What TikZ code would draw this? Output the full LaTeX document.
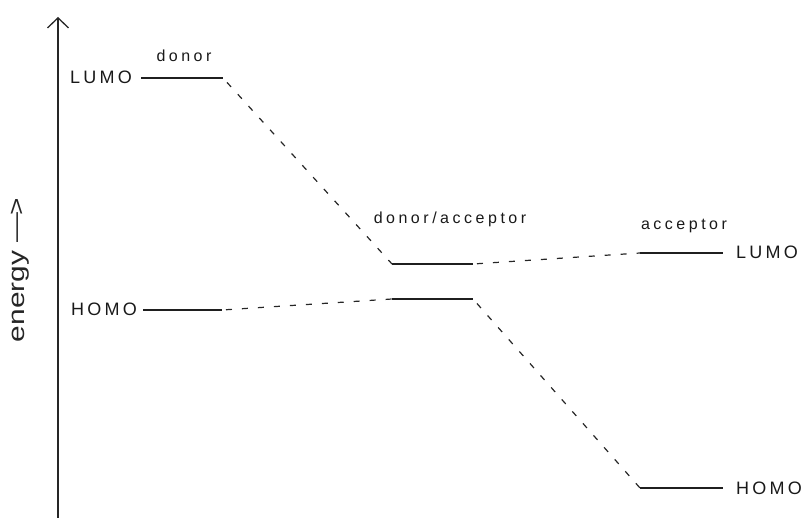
\documentclass[tikz,border=0pt]{standalone}
\usepackage{fontspec}
\setmainfont{Liberation Sans}
\newfontfamily\spacedfont[LetterSpace=22]{Liberation Sans}
\newfontfamily\capsfont[LetterSpace=18]{Liberation Sans}
\usetikzlibrary{arrows.meta}
\begin{document}
\begin{tikzpicture}[x=1pt,y=-1pt,
  level/.style={line width=1.7pt, draw=black!88},
  link/.style={line width=1.2pt, draw=black!85, dash pattern=on 6pt off 10pt},
  lbl/.style={font=\fontsize{16}{18}\spacedfont, text=black!90, inner sep=0pt, anchor=base},
  caps/.style={font=\fontsize{18}{20}\capsfont, text=black!90, inner sep=0pt, anchor=base}]
\useasboundingbox (0,0) rectangle (803,518);

% energy axis
\coordinate (axb) at (58,518);
\coordinate (axt) at (58,17);
\draw[line width=1.5pt, black!85, -{Straight Barb[length=10pt,width=21pt,line width=1.3pt]}] (axb) -- (axt);
\node[inner sep=0pt, text=black!85] (elabel) at (20,270)
  {\rotatebox{90}{\scalebox{1.3}[1]{\fontsize{23}{26}\selectfont energy \raisebox{0.5pt}{---}\kern-2pt{>}}}};

% orbital levels
\coordinate (dL1) at (141,78);  \coordinate (dL2) at (223,78);
\coordinate (dH1) at (143,310); \coordinate (dH2) at (222,310);
\coordinate (cL1) at (392,264); \coordinate (cL2) at (473,264);
\coordinate (cH1) at (392,299); \coordinate (cH2) at (473,299);
\coordinate (aL1) at (640,253); \coordinate (aL2) at (723,253);
\coordinate (aH1) at (640,488); \coordinate (aH2) at (723,488);

\draw[level] (dL1) -- (dL2);
\draw[level] (dH1) -- (dH2);
\draw[level] (cL1) -- (cL2);
\draw[level] (cH1) -- (cH2);
\draw[level] (aL1) -- (aL2);
\draw[level] (aH1) -- (aH2);

% correlation lines
\draw[link, dash phase=-6pt] (dL2) -- (cL1);
\draw[link, dash phase=-4pt] (dH2) -- (cH1);
\draw[link, dash phase=-4pt] (cL2) -- (aL1);
\draw[link, dash phase=-6pt] (cH2) -- (aH1);

% labels
\node[caps] (tdL) at (101,84) {LUMO};
\node[caps] (tdH) at (104,316) {HOMO};
\node[lbl] (tdn) at (184,62) {donor};
\node[lbl] (tda) at (450,224) {donor/acceptor};
\node[lbl] (tac) at (684,230) {acceptor};
\node[caps] (taL) at (767,259) {LUMO};
\node[caps] (taH) at (769,494) {HOMO};
\end{tikzpicture}
\end{document}
